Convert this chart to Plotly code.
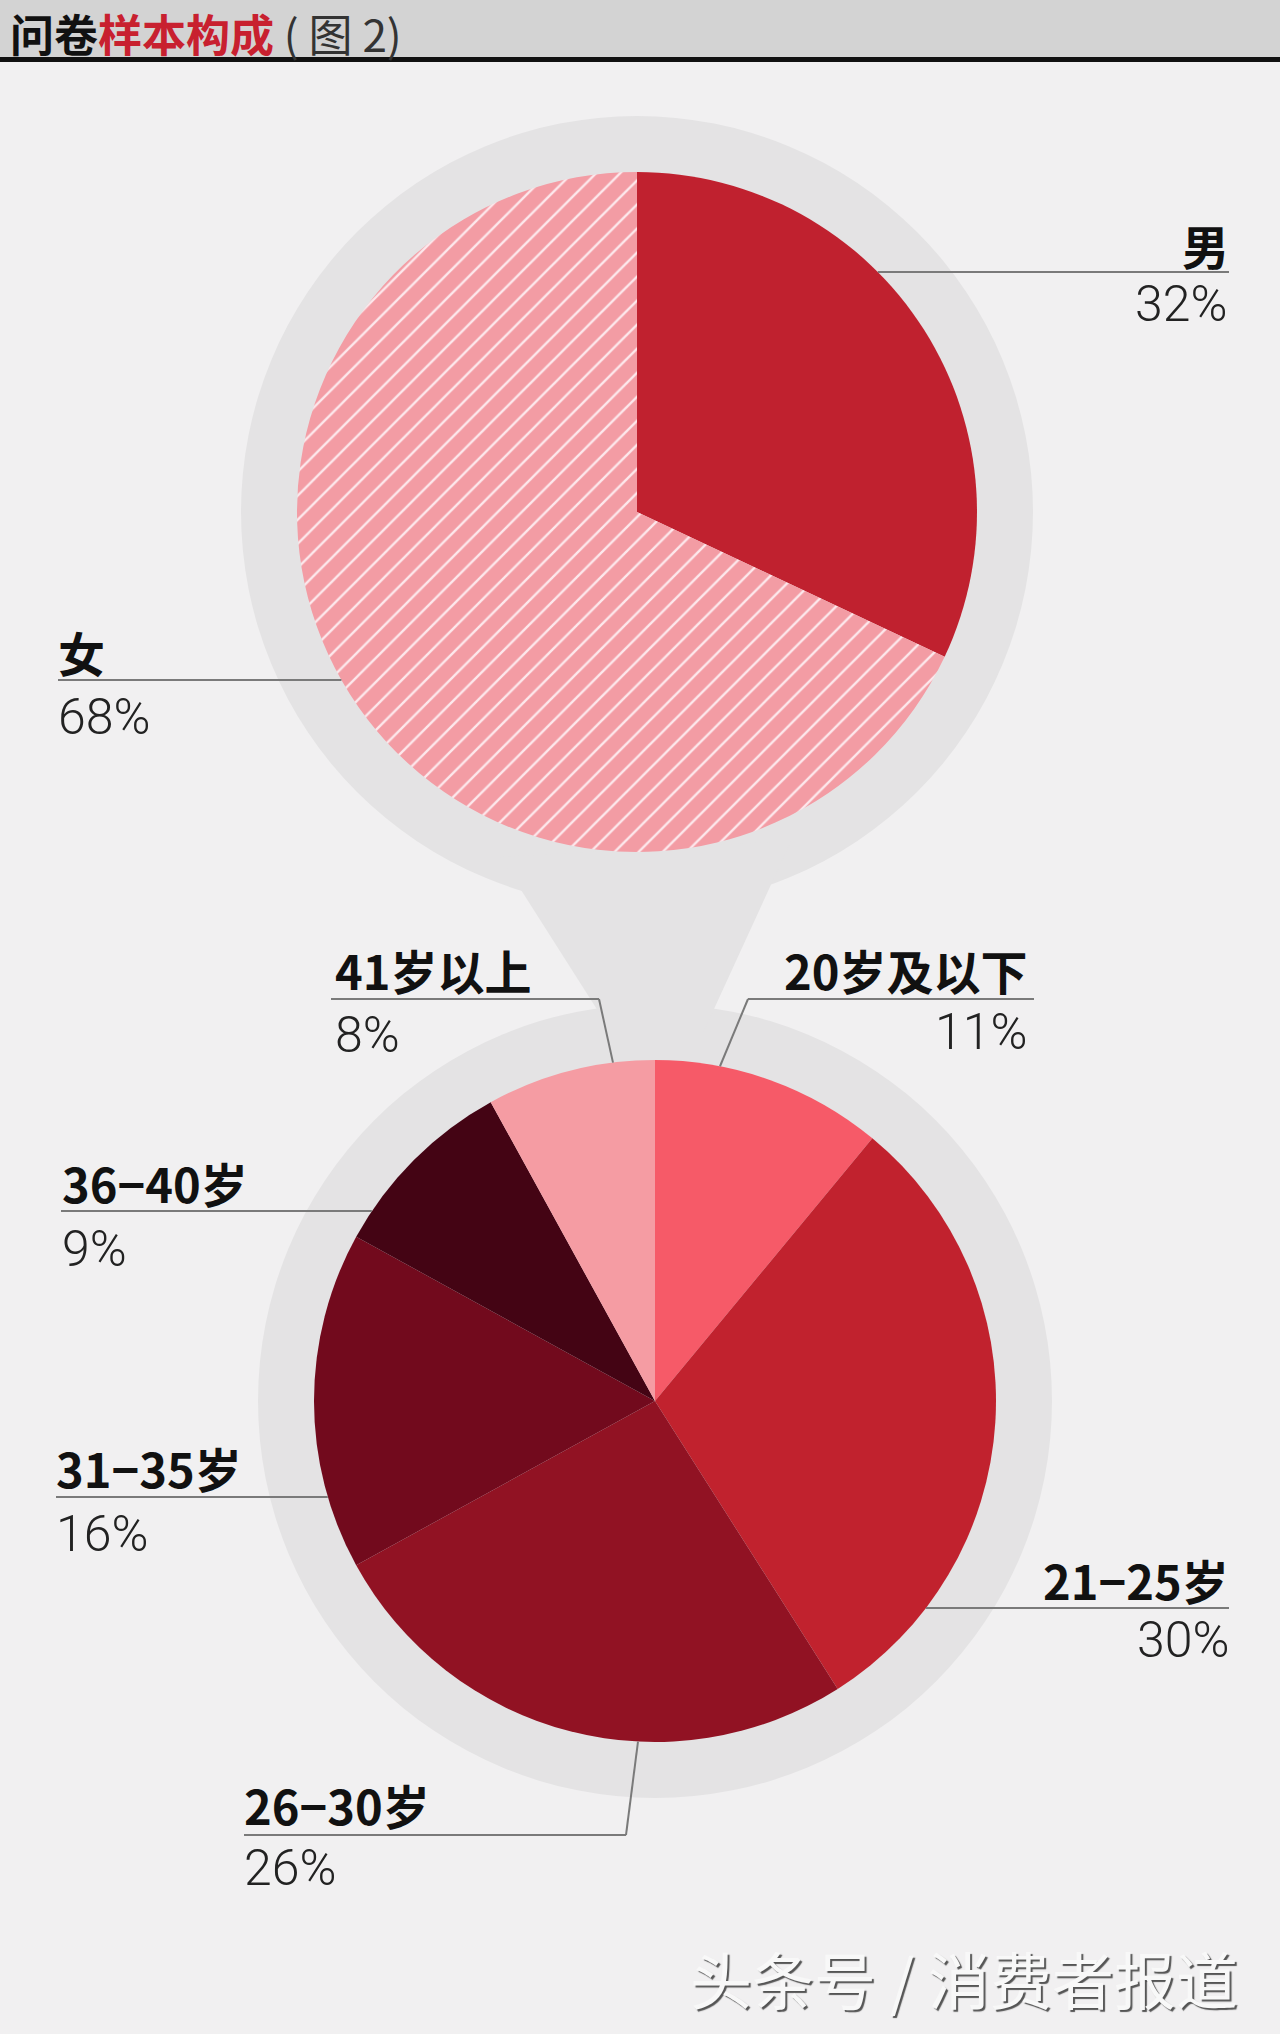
import math
import plotly.graph_objects as go

W, H = 1280, 2034

# ---------------- data ----------------
gender_labels = ["男", "女"]
gender_values = [32, 68]
gender_colors = ["#c0212f", "#f39ca4"]

age_labels = ["20岁及以下", "21−25岁", "26−30岁", "31−35岁", "36−40岁", "41岁以上"]
age_values = [11, 30, 26, 16, 9, 8]
age_colors = ["#f65a68", "#c1222e", "#911223", "#720a1d", "#440414", "#f59ca3"]

title_black = "问卷"
title_red = "样本构成"
title_tail = " ( 图 2)"
watermark = "头条号 / 消费者报道"

# ---------------- layout geometry (pixels) ----------------
BG = "#f1f0f1"
HALO = "#e4e3e4"
top_c, top_r = (637, 512), 340
bot_c, bot_r = (655, 1401), 341
halo_w = 56


def domain(c, r):
    cx, cy = c
    return dict(x=[(cx - r) / W, (cx + r) / W],
                y=[(H - cy - r) / H, (H - cy + r) / H])


fig = go.Figure()

# invisible cartesian trace to create pixel-space axes
fig.add_trace(go.Scatter(x=[0], y=[0], mode="markers", marker=dict(opacity=0),
                         hoverinfo="skip", showlegend=False))

fig.add_trace(go.Pie(
    labels=gender_labels, values=gender_values, sort=False, direction="clockwise",
    rotation=0, textinfo="none", showlegend=False, hoverinfo="label+percent",
    domain=domain(top_c, top_r),
    marker=dict(colors=gender_colors, line=dict(width=0),
                pattern=dict(shape=["", "/"], fgcolor="#fde8ec", bgcolor=gender_colors,
                             fillmode="replace", size=17, solidity=0.14)),
))

fig.add_trace(go.Pie(
    labels=age_labels, values=age_values, sort=False, direction="clockwise",
    rotation=0, textinfo="none", showlegend=False, hoverinfo="label+percent",
    domain=domain(bot_c, bot_r),
    marker=dict(colors=age_colors, line=dict(width=0)),
))

shapes = []
# title bar
shapes.append(dict(type="rect", x0=0, x1=W, y0=0, y1=57, fillcolor="#d3d3d3",
                   line=dict(width=0), layer="below"))
shapes.append(dict(type="rect", x0=0, x1=W, y0=57, y1=62, fillcolor="#111111",
                   line=dict(width=0), layer="below"))

# halos
for (cx, cy), r in [(top_c, top_r), (bot_c, bot_r)]:
    R = r + halo_w
    shapes.append(dict(type="circle", x0=cx - R, x1=cx + R, y0=cy - R, y1=cy + R,
                       fillcolor=HALO, line=dict(width=0), layer="below"))
# funnel connecting halos
shapes.append(dict(type="path",
                   path="M 500,857 L 612,1033 L 703,1033 L 791,841 Z",
                   fillcolor=HALO, line=dict(width=0), layer="below"))


def edge_x(c, r, y, side):
    cx, cy = c
    return cx + side * math.sqrt(r * r - (y - cy) ** 2)


def edge_y(c, r, x, side):
    cx, cy = c
    return cy + side * math.sqrt(r * r - (x - cx) ** 2)


LINE = dict(color="#7a7a7a", width=2)


def hline(x0, x1, y):
    shapes.append(dict(type="line", x0=x0, x1=x1, y0=y, y1=y, line=LINE, layer="above"))


def seg(x0, y0, x1, y1):
    shapes.append(dict(type="line", x0=x0, x1=x1, y0=y0, y1=y1, line=LINE, layer="above"))


# leader lines
hline(edge_x(top_c, top_r, 272, 1), 1229, 272)        # 男
hline(58, edge_x(top_c, top_r, 680, -1), 680)         # 女
hline(331, 599, 999)                                  # 41岁以上
seg(599, 999, 613, edge_y(bot_c, bot_r, 613, -1))
hline(748, 1034, 999)                                 # 20岁及以下
seg(748, 999, 720, edge_y(bot_c, bot_r, 720, -1))
hline(61, edge_x(bot_c, bot_r, 1211, -1), 1211)       # 36-40
hline(56, edge_x(bot_c, bot_r, 1497, -1), 1497)       # 31-35
hline(edge_x(bot_c, bot_r, 1608, 1), 1229, 1608)      # 21-25
hline(244, 626, 1835)                                 # 26-30
seg(626, 1835, 638, edge_y(bot_c, bot_r, 638, 1))

LABEL_FONT = dict(family="Noto Sans CJK SC", size=47, color="#111111", weight="bold")
PCT_FONT = dict(family="Roboto", size=50, color="#222222", weight=300)

annotations = []


def label(text, x, y, anchor, font):
    annotations.append(dict(text=text, x=x, y=y, xref="x", yref="y", xanchor=anchor,
                            yanchor="middle", showarrow=False, font=font))


pct = [f"{v}%" for v in gender_values]
label(gender_labels[0], 1231, 244, "right", LABEL_FONT)
label(pct[0], 1229, 304, "right", PCT_FONT)
label(gender_labels[1], 56, 651, "left", LABEL_FONT)
label(pct[1], 56, 717, "left", PCT_FONT)

apct = [f"{v}%" for v in age_values]
# (label y, pct y, x, anchor) per age group
age_pos = [
    (969, 1032, 1029, "right"),
    (1579, 1640, 1231, "right"),
    (1804, 1868, 242, "left"),
    (1467, 1534, 54, "left"),
    (1182, 1249, 60, "left"),
    (969, 1035, 333, "left"),
]
for lab, p, (ly, py, x, anc) in zip(age_labels, apct, age_pos):
    label(lab, x, ly, anc, LABEL_FONT)
    label(p, x, py, anc, PCT_FONT)

# title
annotations.append(dict(
    text=f"<b>{title_black}</b><b><span style='color:#c8202f'>{title_red}</span></b>"
         f"<span style='color:#333333'>{title_tail}</span>",
    x=8, y=33, xref="x", yref="y", xanchor="left", yanchor="middle", showarrow=False,
    font=dict(family="Noto Sans CJK SC", size=44, color="#111111")))

# watermark
annotations.append(dict(
    text=watermark, x=1240, y=1978, xref="x", yref="y", xanchor="right", yanchor="middle",
    showarrow=False,
    font=dict(family="Noto Sans CJK SC", size=62, color="#f8f8f8",
              shadow="2px 2px 1px #555555")))

fig.update_layout(
    width=W, height=H, margin=dict(l=0, r=0, t=0, b=0),
    paper_bgcolor=BG, plot_bgcolor=BG,
    xaxis=dict(range=[0, W], visible=False, fixedrange=True),
    yaxis=dict(range=[H, 0], visible=False, fixedrange=True),
    shapes=shapes, annotations=annotations, showlegend=False,
)

fig.write_html(
    "out.html",
    config={"displayModeBar": False},
    post_script="document.body.style.margin='0';document.body.style.padding='0';"
                "document.body.style.overflow='hidden';",
)
